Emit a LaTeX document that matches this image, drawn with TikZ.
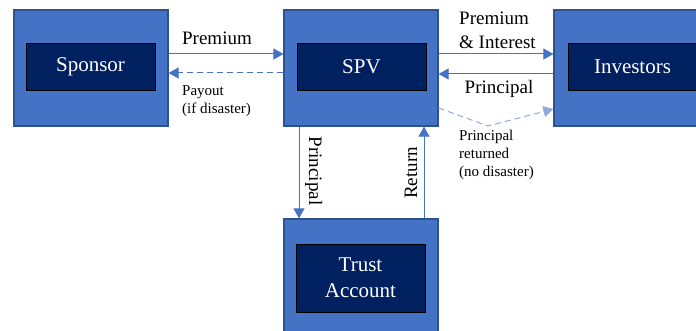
\documentclass[tikz,border=0pt]{standalone}
\usepackage{fontspec}
\setmainfont{Liberation Serif}
\usetikzlibrary{positioning,calc,arrows.meta}
\definecolor{boxblue}{HTML}{4472C4}
\definecolor{boxedge}{HTML}{2F528F}
\definecolor{navy}{HTML}{002060}
\definecolor{paleblue}{HTML}{8FAADC}
\tikzset{
  outerbox/.style={minimum width=154pt,minimum height=116pt,draw=boxedge,line width=1.2pt,fill=boxblue,inner sep=0pt},
  innerbox/.style={minimum width=129pt,minimum height=47pt,draw=black,line width=0.8pt,fill=navy,text=white,font=\fontsize{21}{26}\selectfont,align=center,inner sep=0pt},
  flow/.style={draw=boxblue,line width=1pt,-{Triangle[length=10pt,width=11pt]}},
  flowlbl/.style={font=\fontsize{19}{24}\selectfont,inner sep=0pt},
  note/.style={font=\fontsize{15}{18}\selectfont,inner sep=0pt,align=left},
}

\begin{document}
\begin{tikzpicture}[x=1pt,y=-1pt]
		\clip (0,0) rectangle (696,331);
		\fill[white] (0,0) rectangle (696,331);
		
		% outer blocks
		\node[outerbox] (sponsor) at (91,68) {};
		\node[outerbox] (spv) at (361,68) {};
		\node[outerbox] (investors) at (631,68) {};
		\node[outerbox] (trust) at (361,277) {};
		
		% dark labels
		\node[innerbox] (sponsorin) at (90.5,66.5) {Sponsor};
		\node[innerbox] (spvin) at (361.5,66.5) {SPV};
		\node[innerbox] (investorsin) at (632.5,66.5) {Investors};
		\node[innerbox,minimum height=68pt] (trustin) at (360.5,278) {Trust\\Account};
		
		% sponsor <-> spv
		\draw[flow] (sponsor.east |- 0,54) -- (spv.west |- 0,54);
		\node[flowlbl,anchor=base] (premlbl) at (217,45) {Premium};
		\draw[flow,dashed,dash pattern=on 6pt off 4pt] (spv.west |- 0,73) -- (sponsor.east |- 0,73);
		\node[note,anchor=base west] (payoutlbl) at (182,114) {Payout\\(if disaster)};
		
		% spv <-> investors
		\draw[flow] (spv.east |- 0,54) -- (investors.west |- 0,54);
		\node[flowlbl,anchor=base west,align=left] (intlbl) at (459,49) {Premium\\\& Interest};
		\draw[flow] (investors.west |- 0,74) -- (spv.east |- 0,74);
		\node[flowlbl,anchor=base] (prinlbl) at (499,94) {Principal};
		
		\coordinate (dip) at (488,126);
		\draw[flow,draw=paleblue,dashed,dash pattern=on 6pt off 4pt] (spv.east |- 0,108) -- (dip) -- (investors.west |- 0,109);
		\node[note,anchor=base west] (retlbl) at (459,177) {Principal\\returned\\(no disaster)};
		
		% spv <-> trust
		\draw[flow] (spv.south -| 299,0) -- (trust.north -| 299,0);
		\node[flowlbl,rotate=-90,anchor=base] (downlbl) at (309,171) {Principal};
		\draw[flow] (trust.north -| 424,0) -- (spv.south -| 424,0);
		\node[flowlbl,rotate=90,anchor=base] (uplbl) at (417,173) {Return};
	\end{tikzpicture}
\end{document}
